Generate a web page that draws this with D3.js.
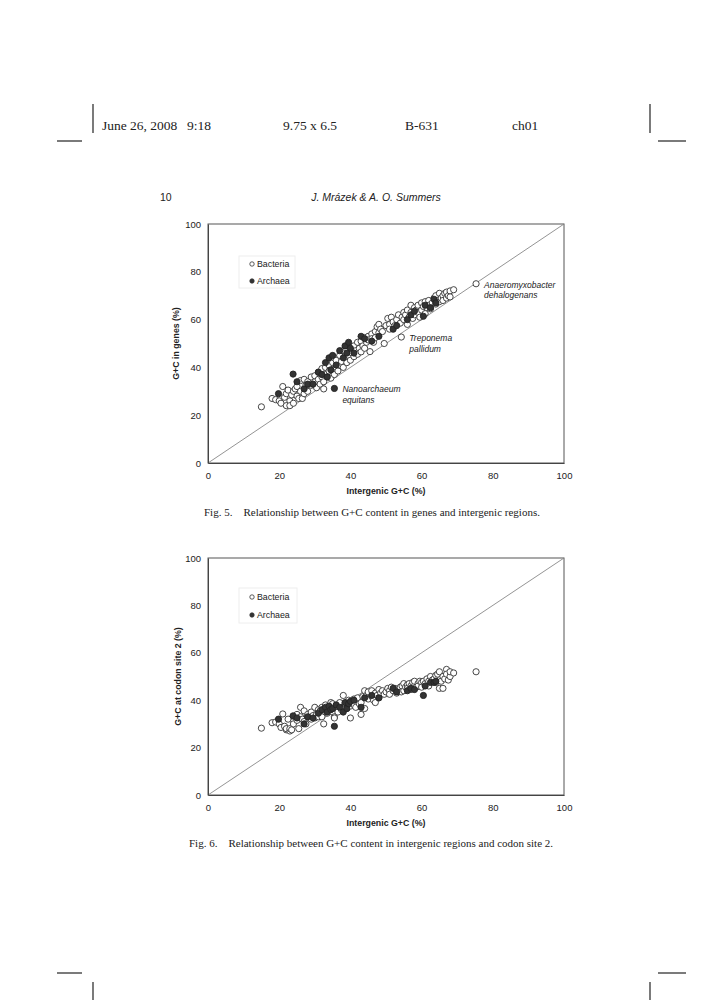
<!DOCTYPE html>
<html>
<head>
<meta charset="utf-8">
<script src="https://cdn.jsdelivr.net/npm/d3@7"></script>
<style>
  body { margin: 0; background: #fff; }
  .tick text { font-family: "Liberation Sans", Arial, sans-serif; font-size: 9.5px; fill: #222; }
  .axis-title { font-family: "Liberation Sans", Arial, sans-serif; font-size: 8.8px; font-weight: bold; fill: #222; }
  .legend text { font-family: "Liberation Sans", Arial, sans-serif; font-size: 8.8px; fill: #222; }
  .note { font-family: "Liberation Sans", Arial, sans-serif; font-size: 8.5px; font-style: italic; fill: #222; }
  .serif { font-family: "Liberation Serif", "DejaVu Serif", serif; fill: #222; }
</style>
</head>
<body>
<div id="page"></div>
<script>
// axis ticks (both charts share them)
const xTicks = [0, 20, 40, 60, 80, 100];
const yTicks = [0, 20, 40, 60, 80, 100];

// genomes: [intergenic G+C, G+C in genes, G+C at codon site 2]
const bacteria = [
  [15,23.5,28.2],[18,27,30.5],[19,26.5,30.8],[20,26,30],[20.5,25,28.5],[21,32,34.2],
  [21.5,27.5,29],[22,24,27.5],[22,29,28],[22.5,30.5,32],[23,26,27],[23,24,28],
  [23.5,28.5,27.5],[24,30,31],[24,25,30],[24.5,31,33],[25,28,34],[25,32,31.5],
  [25.5,27,28],[26,30,37],[26,34.5,33],[26.5,27,32],[27,29,35.5],[27,35,31],
  [27.5,32.5,30],[28,30,33],[28,34,34],[29,36,32],[29,32.5,35],[29.5,33,33.5],
  [30,34,37],[30,36.5,32.5],[30.5,31.5,34],[31,35,36],[31,38,33],[31.5,33,35.5],
  [32,36,37],[32,39.5,33],[32.5,31,30],[32.5,34,36],[33,37,38],[33,40,35],
  [33.5,36,34.5],[34,38.5,37.5],[34,41,36],[34.5,35.5,39],[35,39,35],[35,42,38.5],
  [35.5,37,33],[35.5,44,32.5],[36,40,36.5],[36,43,37.5],[36.5,38.5,35],[37,41,38],
  [37,45,39],[37.5,42.5,36],[38,40,37],[38,47,42],[38.5,44,38.5],[39,42,36.5],
  [39,47.5,39],[39.5,45,40],[40,43,32.5],[40,48.5,37.5],[40.5,46,39.5],[41,44.5,38],
  [41,49,40.5],[41.5,47,37],[42,50.5,40],[42,45.5,41],[42.5,48,38.5],[43,51,39],
  [43,46.5,34],[43.5,49,41.5],[44,52.5,44],[44,48,36.5],[44.5,50.5,42],[45,53,40.5],
  [45.5,46.6,42.5],[45,51.5,43.5],[46,54,41.5],[46,52,44],[46.5,50.5,40],[47,55,43],
  [47,52.5,39],[47.5,57,42],[48,54.5,44.5],[48,58,41],[48.5,56,43],[49,55,44],
  [49.5,50,42.5],[50,57.5,43.5],[50.5,60.5,45],[51,58,44],[51,56,42.5],[51.5,61,45.5],
  [52,59,44],[52.5,57.5,45],[53,60,43],[53.5,62,44.5],[54,58.5,45.5],[54.3,52.7,43.5],
  [54.5,61,46],[55,63,47],[55,60,44],[55.5,62,45.5],[56,58,46.5],[56,64,45],
  [56.5,61,47],[57,66,46],[57,63,44.5],[57.5,60.5,47.5],[58,65,46],[58,62,48],
  [58.5,64,45.5],[59,66,47],[59,63,46],[59.5,61,48],[60,67,47.5],[60,64,45.5],
  [60.5,65.5,48],[61,62.5,46.5],[61,67.5,47],[61.5,65,49],[62,68,48],[62,66,46],
  [62.5,64.5,50],[63,67,48.5],[63.5,69,49],[64,66.5,47.5],[64,70,50.5],[64.5,68,51],
  [65,71,52],[65,67.5,45],[65.5,69,48],[66,70,45],[66,68,50],[66.5,71,49],
  [67,69,53],[67,71.5,51],[67.5,70,48.5],[68,72,50],[68,69.5,52],[69,72.5,51.5],
  [75.3,75,52]
];

const archaea = [
  [19.8,29,32],[23.9,37.2,33.4],[25,34,32.5],[27,31,30],[28,33,33],[29.5,33,32.5],
  [31,38,34.5],[32,37,36],[33,42,37],[33.5,36,35],[34,44,37.5],[34.5,39,36],
  [35,45,36.5],[35.5,31.2,29],[36,41,38],[37,47,37],[38,44,35],[38.5,49,39],
  [39,46,36.5],[39.5,50.5,38.5],[40,48,39.5],[41,46,40],[43,53,37],[44,52,41],
  [46,51,42],[48,53,41],[52,56,45],[53,57.5,43.5],[56,60,44],[57,62,45],
  [58,63.5,44.5],[60.5,61.4,42],[61,66,46],[62.5,65,47.5],[63.5,68.5,47.5],[64,67,48]
];

const legendLabels = ["Bacteria", "Archaea"];

// named genomes in Fig. 5: [line 1, line 2, genome]
const notes = [
  ["Anaeromyxobacter", "dehalogenans", bacteria[bacteria.length - 1]],
  ["Treponema", "pallidum", bacteria[101]],
  ["Nanoarchaeum", "equitans", archaea[13]]
];

const svg = d3.select("#page").append("svg")
  .attr("width", 706)
  .attr("height", 1000);

svg.append("rect").attr("width", 706).attr("height", 1000).attr("fill", "#fff");

// crop marks
const marks = [
  [93, 104, 93, 133], [57, 141, 82, 141],
  [650, 104, 650, 133], [658, 141, 686, 141],
  [57, 973, 82, 973], [93, 982, 93, 1000],
  [658, 973, 686, 973], [650, 982, 650, 1000]
];
svg.selectAll(".crop").data(marks).enter().append("line")
  .attr("x1", d => d[0]).attr("y1", d => d[1])
  .attr("x2", d => d[2]).attr("y2", d => d[3])
  .attr("stroke", "#222").attr("stroke-width", 1.2);

// running header
const header = [["June 26, 2008", 102], ["9:18", 187], ["9.75 x 6.5", 283], ["B-631", 405], ["ch01", 512]];
svg.selectAll(".hdr").data(header).enter().append("text")
  .attr("class", "serif")
  .attr("x", d => d[1]).attr("y", 130)
  .style("font-size", "13.5px")
  .text(d => d[0]);

svg.append("text").attr("x", 160).attr("y", 201)
  .style("font-family", "'Liberation Sans', Arial, sans-serif").style("font-size", "10.5px")
  .attr("fill", "#222").text("10");
svg.append("text").attr("x", 376).attr("y", 201).attr("text-anchor", "middle")
  .style("font-family", "'Liberation Sans', Arial, sans-serif").style("font-size", "10.5px")
  .style("font-style", "italic").attr("fill", "#222").text("J. Mrázek & A. O. Summers");

function drawChart(cfg) {
  let g = svg.append("g");

  let x = d3.scaleLinear().domain([0, 100]).range([208, 564]);
  let y = d3.scaleLinear().domain([0, 100]).range([cfg.bottom, cfg.top]);

  // plot frame
  g.append("rect")
    .attr("x", x(0)).attr("y", y(100))
    .attr("width", x(100) - x(0)).attr("height", y(0) - y(100))
    .attr("fill", "none").attr("stroke", "#555").attr("stroke-width", 1);

  // y = x reference line
  g.append("line")
    .attr("x1", x(0)).attr("y1", y(0))
    .attr("x2", x(100)).attr("y2", y(100))
    .attr("stroke", "#888").attr("stroke-width", 0.9);

  let xAxis = d3.axisBottom(x).tickValues(xTicks).tickSize(0).tickPadding(9);
  let yAxis = d3.axisLeft(y).tickValues(yTicks).tickSize(0).tickPadding(7);

  g.append("g").attr("transform", "translate(0," + y(0) + ")").call(xAxis)
    .call(a => a.select(".domain").attr("stroke", "#444"));
  g.append("g").attr("transform", "translate(" + x(0) + ",0)").call(yAxis)
    .call(a => a.select(".domain").attr("stroke", "#444"));

  g.append("text").attr("class", "axis-title")
    .attr("x", (x(0) + x(100)) / 2).attr("y", y(0) + cfg.xTitleGap)
    .attr("text-anchor", "middle").text("Intergenic G+C (%)");
  g.append("text").attr("class", "axis-title")
    .attr("transform", "translate(" + cfg.yTitleX + "," + ((y(0) + y(100)) / 2) + ") rotate(-90)")
    .attr("text-anchor", "middle").text(cfg.yTitle);

  // points
  g.selectAll(".bact").data(bacteria).enter().append("circle")
    .attr("cx", d => x(d[0])).attr("cy", d => y(d[cfg.col]))
    .attr("r", 3.1).attr("fill", "#fff").attr("stroke", "#333").attr("stroke-width", 0.9);
  g.selectAll(".arch").data(archaea).enter().append("circle")
    .attr("cx", d => x(d[0])).attr("cy", d => y(d[cfg.col]))
    .attr("r", 3.1).attr("fill", "#333").attr("stroke", "#222").attr("stroke-width", 0.9);

  // legend
  let lg = g.append("g").attr("class", "legend");
  lg.append("rect")
    .attr("x", cfg.legend[0]).attr("y", cfg.legend[1])
    .attr("width", cfg.legend[2]).attr("height", cfg.legend[3])
    .attr("fill", "#fff").attr("stroke", "#eee");
  legendLabels.forEach(function(lbl, i) {
    let cy = cfg.legend[1] + cfg.legendRows[i];
    lg.append("circle").attr("cx", cfg.legend[0] + 13).attr("cy", cy).attr("r", 2.2)
      .attr("fill", i === 0 ? "#fff" : "#333").attr("stroke", "#333").attr("stroke-width", 0.8);
    lg.append("text").attr("x", cfg.legend[0] + 18).attr("y", cy).attr("dy", "0.35em").text(lbl);
  });

  if (cfg.notes) {
    notes.forEach(function(n) {
      let px = x(n[2][0]) + 8, py = y(n[2][1]);
      let t = g.append("text").attr("class", "note");
      t.append("tspan").attr("x", px).attr("y", py + 4).text(n[0]);
      t.append("tspan").attr("x", px).attr("y", py + 14.5).text(n[1]);
    });
  }
}

drawChart({ top: 224, bottom: 463, col: 1, yTitle: "G+C in genes (%)", yTitleX: 178.5,
  xTitleGap: 31, legend: [239, 256, 56, 32], legendRows: [8, 25], notes: true });
drawChart({ top: 558, bottom: 795, col: 2, yTitle: "G+C at codon site 2 (%)", yTitleX: 180.5,
  xTitleGap: 31, legend: [239, 588, 58, 35], legendRows: [9, 27], notes: false });

// figure captions
svg.append("text").attr("class", "serif").attr("x", 204).attr("y", 516)
  .style("font-size", "11px").attr("xml:space", "preserve")
  .text("Fig. 5.    Relationship between G+C content in genes and intergenic regions.");
svg.append("text").attr("class", "serif").attr("x", 189).attr("y", 847)
  .style("font-size", "11px").attr("xml:space", "preserve")
  .text("Fig. 6.    Relationship between G+C content in intergenic regions and codon site 2.");
</script>
</body>
</html>
